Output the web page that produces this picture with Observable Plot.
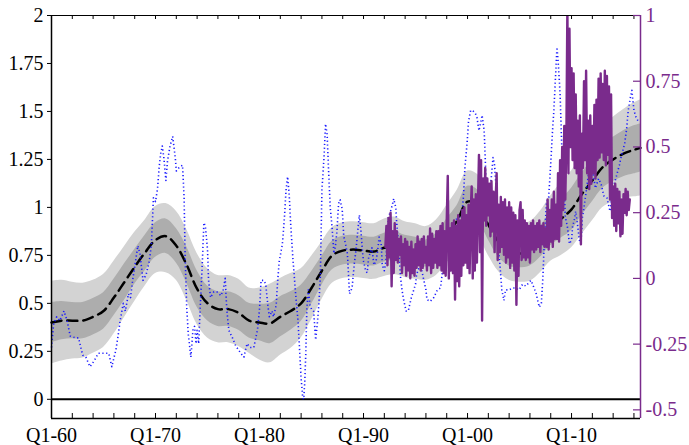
<!DOCTYPE html>
<html><head><meta charset="utf-8">
<script src="https://cdn.jsdelivr.net/npm/d3@7"></script>
<script src="https://cdn.jsdelivr.net/npm/@observablehq/plot@0.6"></script>
<style>body{margin:0;background:#fff}#chart{width:689px;height:445px}
#chart svg text{font-family:"Liberation Serif","DejaVu Serif",serif !important;}</style>
</head><body><div id="chart"></div>
<script>
// ---- data ----
const bandYears = [1960,1961,1962,1963,1964,1965,1966,1967,1968,1969,1970,1971,1972,1973,1974,1975,1976,1977,1978,1979,1980,1981,1982,1983,1984,1985,1986,1987,1988,1989,1990,1991,1992,1993,1994,1995,1996,1997,1998,1999,2000,2001,2002,2003,2004,2005,2006,2007,2008,2009,2010,2011,2012,2013,2014,2015,2016,2016.63];
const median  = [0.40,0.41,0.41,0.41,0.43,0.46,0.53,0.61,0.69,0.765,0.83,0.85,0.80,0.70,0.575,0.50,0.47,0.47,0.45,0.41,0.40,0.395,0.43,0.46,0.50,0.58,0.67,0.75,0.775,0.78,0.775,0.77,0.79,0.80,0.78,0.77,0.76,0.79,0.86,0.93,1.03,1.01,0.91,0.82,0.77,0.76,0.77,0.82,0.89,0.94,0.99,1.07,1.14,1.21,1.25,1.28,1.30,1.31];
const innerLo = [0.295,0.31,0.315,0.315,0.335,0.365,0.435,0.515,0.60,0.67,0.74,0.76,0.71,0.605,0.48,0.41,0.38,0.38,0.36,0.32,0.305,0.29,0.325,0.36,0.405,0.495,0.595,0.675,0.70,0.705,0.70,0.695,0.715,0.725,0.705,0.695,0.69,0.715,0.78,0.85,0.95,0.93,0.83,0.74,0.695,0.685,0.695,0.74,0.80,0.84,0.88,0.96,1.03,1.10,1.135,1.16,1.175,1.185];
const innerHi = [0.505,0.51,0.505,0.505,0.525,0.555,0.625,0.705,0.78,0.855,0.92,0.94,0.89,0.795,0.67,0.59,0.56,0.56,0.54,0.50,0.495,0.50,0.535,0.56,0.595,0.665,0.745,0.825,0.85,0.855,0.85,0.845,0.865,0.875,0.855,0.845,0.83,0.865,0.94,1.01,1.11,1.09,0.99,0.90,0.845,0.835,0.845,0.90,0.98,1.04,1.10,1.18,1.25,1.32,1.365,1.40,1.425,1.435];
const outerLo = [0.185,0.20,0.21,0.215,0.24,0.27,0.34,0.425,0.51,0.59,0.655,0.66,0.62,0.515,0.39,0.32,0.295,0.295,0.275,0.24,0.205,0.19,0.23,0.265,0.32,0.415,0.52,0.605,0.63,0.635,0.63,0.625,0.64,0.65,0.635,0.625,0.62,0.645,0.71,0.77,0.87,0.85,0.75,0.665,0.62,0.61,0.615,0.66,0.72,0.75,0.79,0.86,0.93,1.00,1.03,1.05,1.055,1.06];
const outerHi = [0.615,0.62,0.61,0.605,0.62,0.65,0.72,0.795,0.87,0.935,1.005,1.02,0.98,0.885,0.76,0.68,0.645,0.645,0.625,0.58,0.58,0.60,0.63,0.655,0.68,0.745,0.82,0.895,0.92,0.925,0.92,0.915,0.94,0.95,0.925,0.915,0.90,0.935,1.01,1.09,1.19,1.17,1.07,0.975,0.92,0.91,0.925,0.98,1.06,1.13,1.19,1.28,1.35,1.42,1.47,1.51,1.545,1.56];

const blueT = [1960.0,1960.2,1960.5,1960.8,1961.2,1961.5,1961.8,1962.3,1962.6,1963.0,1963.3,1963.7,1964.1,1964.5,1965.0,1965.5,1965.8,1966.2,1966.4,1966.6,1966.9,1967.1,1967.4,1967.6,1967.8,1968.0,1968.3,1968.5,1968.8,1969.1,1969.4,1969.6,1969.8,1970.0,1970.2,1970.35,1970.5,1970.65,1970.8,1971.0,1971.15,1971.4,1971.65,1971.9,1972.0,1972.3,1972.6,1972.75,1972.85,1973.0,1973.15,1973.4,1973.6,1973.75,1973.9,1974.0,1974.15,1974.3,1974.5,1974.65,1974.8,1975.0,1975.1,1975.3,1975.6,1975.9,1976.3,1976.5,1976.7,1976.85,1977.05,1977.4,1977.7,1978.2,1978.5,1978.8,1979.1,1979.45,1979.8,1980.0,1980.15,1980.4,1980.6,1980.8,1980.95,1981.2,1981.35,1981.6,1981.75,1981.9,1982.2,1982.4,1982.55,1982.7,1982.85,1983.0,1983.2,1983.5,1983.7,1983.85,1984.0,1984.15,1984.25,1984.35,1984.45,1984.55,1984.7,1984.85,1985.0,1985.2,1985.4,1985.55,1985.7,1985.85,1986.0,1986.2,1986.35,1986.5,1986.65,1986.8,1987.0,1987.15,1987.3,1987.45,1987.6,1987.75,1987.95,1988.1,1988.3,1988.45,1988.65,1988.9,1989.1,1989.3,1989.45,1989.6,1989.75,1989.9,1990.0,1990.2,1990.35,1990.5,1990.8,1991.0,1991.2,1991.35,1991.5,1991.7,1991.8,1992.0,1992.15,1992.4,1992.6,1992.8,1992.9,1993.1,1993.2,1993.4,1993.55,1993.7,1993.85,1994.1,1994.3,1994.6,1995.0,1995.1,1995.3,1995.6,1996.0,1996.1,1996.4,1996.75,1997.1,1997.4,1997.6,1997.9,1998.25,1998.5,1998.8,1999.1,1999.4,1999.6,1999.75,1999.95,2000.1,2000.3,2000.5,2000.75,2000.9,2001.1,2001.3,2001.4,2001.6,2001.7,2001.8,2002.0,2002.2,2002.45,2002.6,2002.75,2002.9,2003.0,2003.2,2003.3,2003.5,2003.65,2004.0,2004.3,2004.6,2004.95,2005.3,2005.6,2006.1,2006.4,2006.6,2006.9,2007.1,2007.25,2007.35,2007.5,2007.6,2007.8,2008.0,2008.15,2008.3,2008.45,2008.6,2008.75,2008.9,2009.0,2009.1,2009.3,2009.4,2009.6,2009.8,2010.0,2010.1,2010.25,2010.4,2010.6,2010.75,2010.9,2011.05,2011.2,2011.5,2011.8,2012.0,2012.3,2012.6,2012.85,2013.1,2013.4,2013.7,2014.0,2014.3,2014.6,2014.8,2015.1,2015.3,2015.45,2015.65,2015.8,2016.0,2016.2,2016.4];
const blueV = [0.27,0.39,0.43,0.41,0.46,0.41,0.33,0.32,0.32,0.23,0.22,0.17,0.20,0.24,0.24,0.24,0.17,0.26,0.33,0.41,0.50,0.46,0.55,0.53,0.62,0.69,0.80,0.76,0.62,0.65,0.72,0.80,1.05,1.03,1.10,1.21,1.28,1.32,1.26,1.14,1.24,1.32,1.37,1.26,1.19,1.21,1.22,1.05,0.74,0.48,0.34,0.22,0.36,0.38,0.29,0.36,0.29,0.48,0.71,0.92,0.90,0.78,0.62,0.53,0.56,0.56,0.54,0.57,0.63,0.47,0.36,0.32,0.28,0.24,0.22,0.29,0.27,0.27,0.36,0.47,0.62,0.62,0.60,0.49,0.43,0.46,0.43,0.49,0.62,0.72,0.81,0.95,1.09,1.16,1.07,0.91,0.74,0.53,0.41,0.26,0.11,0.01,0.00,0.09,0.24,0.47,0.57,0.49,0.47,0.46,0.31,0.39,0.49,0.64,1.09,1.26,1.435,1.38,1.18,1.00,0.88,0.76,0.80,0.88,1.02,1.04,0.99,0.85,0.80,0.76,0.55,0.58,0.70,0.79,0.88,0.96,0.88,0.77,0.72,0.67,0.66,0.74,0.79,0.70,0.72,0.77,0.845,0.81,0.70,0.67,0.72,0.95,0.98,1.02,1.045,1.00,0.91,0.79,0.64,0.57,0.52,0.46,0.46,0.53,0.60,0.65,0.68,0.67,0.57,0.52,0.51,0.53,0.57,0.58,0.67,0.74,0.86,0.90,0.93,0.95,0.93,1.05,1.21,1.33,1.45,1.505,1.505,1.49,1.47,1.40,1.45,1.48,1.40,1.26,1.09,1.02,1.10,1.26,1.22,1.10,0.95,0.78,0.64,0.57,0.515,0.57,0.57,0.58,0.58,0.57,0.60,0.59,0.62,0.58,0.55,0.48,0.50,0.64,0.78,0.94,1.03,1.05,1.23,1.38,1.505,1.67,1.835,1.73,1.59,1.42,1.25,1.09,0.95,0.90,0.81,0.83,0.90,0.93,0.98,0.90,0.83,0.81,0.95,1.00,1.12,1.245,1.20,1.10,1.15,1.12,1.06,1.05,0.98,1.10,1.16,1.22,1.27,1.33,1.41,1.505,1.57,1.61,1.505,1.47,1.45];

// purple series (right axis), one value every 0.1 year from 1992.1
const purpleStart = 1992.1, purpleStep = 0.1;
const purpleV = [
 0.12,0.20,0.05,0.23,0.08,  0.25,-0.03,0.18,0.02,0.21,
 0.07,0.18,0.06,0.15,0.09,  0.16,0.02,0.13,0.05,0.15,
 0.01,0.14,0.03,0.12,0.00,  0.14,0.02,0.11,0.01,0.13,
 0.04,0.16,0.05,0.14,0.03,  0.15,0.04,0.16,0.06,0.12,
 0.03,0.16,0.05,0.19,0.02,  0.17,0.04,0.15,0.06,0.18,
 0.04,0.18,0.05,0.20,0.03,  0.21,0.02,0.18,0.01,0.22,
 0.39,0.00,0.19,0.03,0.21,  0.02,0.22,-0.08,0.20,-0.01,
 0.24,-0.03,0.22,0.01,0.26, 0.05,0.27,0.06,0.24,0.04,
 0.28,0.02,0.25,0.35,0.00,  0.30,0.03,0.32,0.06,0.28,
 0.47,0.10,0.45,-0.16,0.38, 0.22,0.42,0.20,0.38,0.24,
 0.36,0.16,0.37,0.18,0.33,  0.10,0.30,0.40,0.07,0.28,
 0.10,0.31,0.12,0.29,0.09,  0.30,0.06,0.27,0.08,0.29,
 0.04,0.27,0.06,0.25,0.03,  0.24,-0.10,0.22,0.01,0.26,
 0.29,0.07,0.26,0.08,0.22,  0.07,0.21,0.08,0.20,0.06,
 0.21,0.11,0.22,0.10,0.20,  0.11,0.21,0.12,0.22,0.10,
 0.20,0.13,0.21,0.12,0.19,  0.12,0.30,0.11,0.26,0.14,
 0.30,0.12,0.33,0.15,0.28,  0.15,0.40,0.14,0.45,0.20,
 0.50,0.26,0.58,0.30,0.52,  1.03,0.40,0.95,0.50,0.80,
 0.45,0.78,0.42,0.70,0.40,  0.60,0.35,0.62,0.13,0.55,
 0.42,0.75,0.45,0.79,0.40,  0.60,0.34,0.62,0.36,0.58,
 0.40,0.66,0.38,0.68,0.45,  0.76,0.46,0.78,0.48,0.74,
 0.45,0.79,0.43,0.77,0.47,  0.73,0.30,0.70,0.23,0.35,
 0.20,0.36,0.18,0.34,0.21,  0.33,0.16,0.30,0.17,0.32,
 0.25,0.34,0.24,0.33,0.26,  0.30
];

const leftTicks = [0, 0.25, 0.5, 0.75, 1, 1.25, 1.5, 1.75, 2];
const rightTicks = [-0.5, -0.25, 0, 0.25, 0.5, 0.75, 1];
const xLabelYears = [1960, 1970, 1980, 1990, 2000, 2010];
const xLabels = ["Q1-60", "Q1-70", "Q1-80", "Q1-90", "Q1-00", "Q1-10"];
const xMinorTicks = d3.range(1960, 2017, 2);

// ---- layout ----
const X0 = 1960, X1 = 2016.63, Y0 = -0.1, Y1 = 2;
const R0 = 0.63, RK = 1.37;               // right-axis value r  <->  left value R0 + r*RK
const toLeft = r => R0 + r * RK;
const PURPLE = "#7a2b8c";
const pxY = 2.1 / 403;                    // data units per pixel on y
const pxX = (X1 - X0) / 589;              // data units per pixel on x

const bands = bandYears.map((t, i) => ({t, med: median[i], il: innerLo[i], ih: innerHi[i], ol: outerLo[i], oh: outerHi[i]}));
const blue = blueT.map((t, i) => ({t, v: blueV[i]}));
const purple = purpleV.map((v, i) => ({t: purpleStart + i * purpleStep, v: toLeft(v)}));
const rMap = new Map(rightTicks.map(r => [toLeft(r), String(r)]));
const xMap = new Map(xLabelYears.map((y, i) => [y, xLabels[i]]));
const SERIF = "'Liberation Serif', 'DejaVu Serif', serif";

const chart = Plot.plot({
  width: 689, height: 445,
  marginLeft: 51, marginRight: 49, marginTop: 15, marginBottom: 27,
  x: {domain: [X0, X1], label: null},
  y: {domain: [Y0, Y1], label: null},
  style: {fontFamily: SERIF, fontSize: "20px", background: "white", color: "black"},
  marks: [
    Plot.areaY(bands, {x: "t", y1: "ol", y2: "oh", fill: "#d3d3d3", curve: "catmull-rom"}),
    Plot.areaY(bands, {x: "t", y1: "il", y2: "ih", fill: "#adadad", curve: "catmull-rom"}),
    Plot.ruleY([0], {stroke: "black", strokeWidth: 2}),
    Plot.line(bands, {x: "t", y: "med", stroke: "black", strokeWidth: 2.5, strokeDasharray: "10,6", curve: "catmull-rom"}),
    Plot.line(blue, {x: "t", y: "v", stroke: "#1a1aff", strokeWidth: 1.6, strokeDasharray: "1.2,2.6", strokeLinecap: "butt"}),
    Plot.line(purple, {x: "t", y: "v", stroke: PURPLE, strokeWidth: 2.4, clip: true}),
    // frame
    Plot.ruleX([X0], {stroke: "black", strokeWidth: 1.5}),
    Plot.ruleY([Y0], {stroke: "black", strokeWidth: 1.5}),
    Plot.ruleY([Y1], {stroke: "black", strokeWidth: 1}),
    Plot.ruleX([X1], {stroke: PURPLE, strokeWidth: 1.5}),
    // x ticks (inward, bottom and top)
    Plot.ruleX(xMinorTicks, {y1: Y0, y2: Y0 + 5 * pxY, stroke: "black", strokeWidth: 1}),
    Plot.ruleX(xMinorTicks, {y1: Y1, y2: Y1 - 4 * pxY, stroke: "black", strokeWidth: 1}),
    // right ticks (inward)
    Plot.ruleY(rightTicks.map(toLeft), {x1: X1 - 7 * pxX, x2: X1, stroke: PURPLE, strokeWidth: 1.2}),
    // axes
    Plot.axisY(leftTicks, {anchor: "left", label: null, tickSize: 4, tickPadding: 4, tickFormat: d => String(d), fontFamily: SERIF}),
    Plot.axisY(rightTicks.map(toLeft), {anchor: "right", label: null, tickSize: 0, tickPadding: 5, tickFormat: d => rMap.get(d), fill: PURPLE, fontFamily: SERIF}),
    Plot.axisX(xLabelYears, {anchor: "bottom", label: null, tickSize: 0, tickPadding: 9, tickFormat: d => xMap.get(d), fontFamily: SERIF})
  ]
});
document.getElementById("chart").appendChild(chart);
</script>
</body></html>
